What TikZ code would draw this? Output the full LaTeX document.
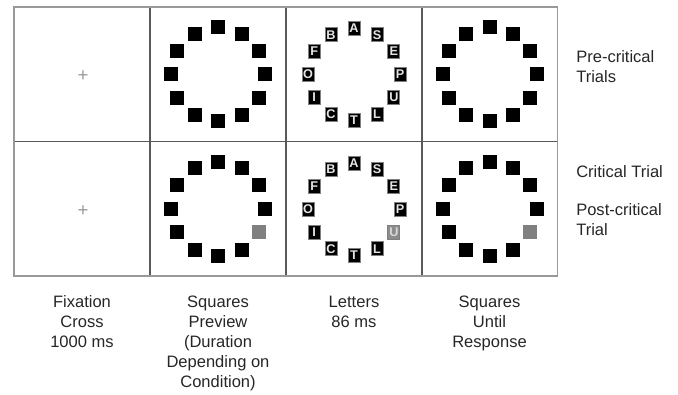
\documentclass[tikz,border=0pt]{standalone}
\usepackage{fontspec}
\setmainfont{Liberation Sans}
\usetikzlibrary{positioning}

\begin{document}
\begin{tikzpicture}[
    x=0.75pt, y=-0.75pt,
    cell/.style={draw=black!65, line width=0.8pt, minimum width=102pt, minimum height=101pt, inner sep=0pt, outer sep=0pt},
    frameline/.style={draw=black!40, line width=1.4pt},
    sq/.style={fill=black, minimum size=10.5pt, inner sep=0pt, outer sep=0pt},
    sqgray/.style={sq, fill=black!50},
    letterbox/.style={fill=black, draw=black!50, line width=0.6pt, minimum width=9pt, minimum height=10.5pt, inner sep=0pt, text=white!90!black, font=\fontsize{9.5}{9.5}\selectfont\bfseries},
    lettergray/.style={letterbox, fill=black!45, text=white!85!black},
    fixcross/.style={text=black!40, font=\fontsize{14}{14}\selectfont, inner sep=0pt},
    caption/.style={align=center, font=\fontsize{12.4}{15}\selectfont, text=black!85, inner sep=0pt},
    rowlabel/.style={align=left, font=\fontsize{12.4}{15}\selectfont, text=black!85, inner sep=0pt, anchor=west}
]
\useasboundingbox (0,0) rectangle (678,395);

    % 1. Display frames (two trial rows, four screens)
    \foreach \col/\x in {1/82, 2/218, 3/354, 4/489.5} {
        \foreach \row/\y in {1/74.5, 2/209} {
            \node[cell] (cell-\row-\col) at (\x,\y) {};
        }
    }
    \draw[frameline] (cell-1-1.north west) rectangle (cell-2-4.south east);

    % 2. Fixation crosses
    \node[fixcross] (fix-1) at ([shift={(1,2)}]cell-1-1.center) {+};
    \node[fixcross] (fix-2) at ([shift={(1,2)}]cell-2-1.center) {+};

    % 3. Square rings (preview and response screens)
    \foreach \col in {2, 4} {
        \foreach \k in {0,...,11} {
            \node[sq] (ring-1-\col-\k) at ([shift={(-90+30*\k:47)}]cell-1-\col.center) {};
        }
        % Critical trial: one square turns gray
        \foreach \k in {0,1,2,3,5,6,7,8,9,10,11} {
            \node[sq] (ring-2-\col-\k) at ([shift={(-90+30*\k:47)}]cell-2-\col.center) {};
        }
        \node[sqgray] (ring-2-\col-4) at ([shift={(30:47)}]cell-2-\col.center) {};
    }

    % 4. Letter ring (86 ms)
    \foreach \k/\ltr in {0/A, 1/S, 2/E, 3/P, 4/U, 5/L, 6/T, 7/C, 8/I, 9/O, 10/F, 11/B} {
        \node[letterbox] (let-1-\k) at ([shift={(-90+30*\k:46)}]cell-1-3.center) {\ltr};
    }
    \foreach \k/\ltr in {0/A, 1/S, 2/E, 3/P, 5/L, 6/T, 7/C, 8/I, 9/O, 10/F, 11/B} {
        \node[letterbox] (let-2-\k) at ([shift={(-90+30*\k:46)}]cell-2-3.center) {\ltr};
    }
    \node[lettergray] (let-2-4) at ([shift={(30:46)}]cell-2-3.center) {U};

    % 5. Screen captions
    \node[caption, below=14.5pt of cell-2-1.south, anchor=north] (cap-fix) {Fixation\\Cross\\1000 ms};
    \node[caption, below=14.5pt of cell-2-2.south, anchor=north] (cap-prev) {Squares\\Preview\\(Duration\\Depending on\\Condition)};
    \node[caption, below=14.5pt of cell-2-3.south, anchor=north] (cap-let) {Letters\\86 ms};
    \node[caption, below=14.5pt of cell-2-4.south, anchor=north] (cap-resp) {Squares\\Until\\Response};

    % 6. Trial labels
    \node[rowlabel] (lbl-pre) at (576,67) {Pre-critical\\Trials};
    \node[rowlabel] (lbl-crit) at (576,172) {Critical Trial};
    \node[rowlabel] (lbl-post) at (576,220) {Post-critical\\Trial};

\end{tikzpicture}
\end{document}
